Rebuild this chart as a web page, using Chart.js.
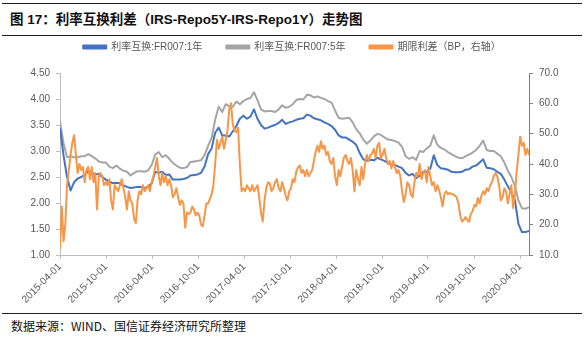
<!DOCTYPE html>
<html>
<head>
<meta charset="utf-8">
<script src="https://cdn.jsdelivr.net/npm/chart.js@4.4.1/dist/chart.umd.min.js"></script>
<style>
  html, body { margin: 0; padding: 0; background: #fff; }
  body { width: 584px; height: 337px; position: relative; overflow: hidden;
         font-family: "Liberation Sans", Arial, "Noto Sans CJK SC", sans-serif; }
  .rule { position: absolute; left: 2px; right: 2px; height: 1px; background: #222; }
  #titulo { position: absolute; left: 10px; top: 8px; font-size: 13.5px; font-weight: bold; color: #111;
            font-family: "Liberation Sans", Arial, "Noto Sans CJK SC", sans-serif; white-space: nowrap; }
  #fuente { position: absolute; left: 11px; top: 317px; font-size: 12px; color: #111;
            font-family: "Noto Sans CJK SC", sans-serif; white-space: nowrap; }
  #caja { position: absolute; left: 0; top: 18px; width: 584px; height: 292px; }
</style>
</head>
<body>
<div class="rule" style="top:3px"></div>
<div id="titulo">图 17：利率互换利差（IRS-Repo5Y-IRS-Repo1Y）走势图</div>
<div class="rule" style="top:35px"></div>
<div id="caja"><canvas id="grafico" width="584" height="292"></canvas></div>
<div class="rule" style="top:313px"></div>
<div id="fuente">数据来源：WIND、国信证券经济研究所整理</div>

<script>
// fechas base: la serie de tasas va cada 14 días, el diferencial cada 7 días
const fechaInicio = "2015-04-01";
const pasoTasas = 14;
const pasoDiferencial = 7;

// ejes
const fechasTicks = ["2015-04-01", "2015-10-01", "2016-04-01", "2016-10-01", "2017-04-01", "2017-10-01",
  "2018-04-01", "2018-10-01", "2019-04-01", "2019-10-01", "2020-04-01"];
const diaFinal = 1862;

// 利率互换:FR007:1年 (%)
const irs1Y = [3.44, 2.92, 2.50, 2.24, 2.40, 2.47, 2.50, 2.54, 2.61, 2.58,
  2.55, 2.56, 2.50, 2.45, 2.41, 2.38, 2.39, 2.38, 2.34, 2.31,
  2.29, 2.30, 2.31, 2.31, 2.29, 2.31, 2.38, 2.60, 2.58, 2.60,
  2.54, 2.55, 2.45, 2.45, 2.45, 2.46, 2.48, 2.53, 2.54, 2.55,
  2.58, 2.70, 2.94, 3.05, 3.35, 3.45, 3.30, 3.30, 3.28, 3.38,
  3.48, 3.62, 3.68, 3.62, 3.66, 3.80, 3.62, 3.50, 3.43, 3.45,
  3.48, 3.50, 3.54, 3.60, 3.52, 3.55, 3.57, 3.60, 3.62, 3.63,
  3.70, 3.68, 3.63, 3.61, 3.59, 3.55, 3.52, 3.48, 3.41, 3.30,
  3.26, 3.26, 3.22, 3.18, 3.12, 2.96, 2.84, 2.81, 2.83, 2.82,
  2.87, 2.84, 2.81, 2.77, 2.74, 2.73, 2.70, 2.67, 2.58, 2.53,
  2.56, 2.48, 2.52, 2.60, 2.60, 2.66, 2.92, 2.73, 2.67, 2.66,
  2.64, 2.60, 2.59, 2.59, 2.60, 2.64, 2.65, 2.70, 2.72, 2.78,
  2.84, 2.68, 2.67, 2.65, 2.60, 2.56, 2.45, 2.32, 2.20, 2.06,
  1.60, 1.44, 1.44, 1.46];

// 利率互换:FR007:5年 (%)
const irs5Y = [3.57, 3.15, 2.88, 2.90, 2.88, 2.88, 2.90, 2.90, 2.94, 2.90,
  2.86, 2.80, 2.78, 2.78, 2.70, 2.67, 2.72, 2.66, 2.62, 2.60,
  2.53, 2.58, 2.61, 2.61, 2.60, 2.63, 2.73, 2.93, 2.98, 2.88,
  2.92, 2.85, 2.77, 2.72, 2.68, 2.67, 2.69, 2.79, 2.80, 2.81,
  2.82, 2.92, 3.10, 3.25, 3.60, 3.85, 3.75, 3.90, 3.86, 3.85,
  3.95, 3.90, 3.96, 4.00, 4.02, 4.13, 3.98, 3.80, 3.76, 3.77,
  3.77, 3.75, 3.80, 3.88, 3.83, 3.85, 3.90, 3.98, 4.00, 3.99,
  4.08, 4.07, 4.03, 4.05, 4.02, 4.00, 3.96, 3.93, 3.78, 3.64,
  3.62, 3.63, 3.64, 3.55, 3.42, 3.34, 3.22, 3.14, 3.20, 3.28,
  3.33, 3.31, 3.26, 3.22, 3.21, 3.19, 3.16, 3.08, 2.90, 2.85,
  2.88, 2.83, 3.00, 2.98, 3.05, 3.10, 3.30, 3.12, 3.06, 3.03,
  2.98, 2.94, 2.90, 2.87, 2.86, 2.90, 2.93, 2.97, 3.02, 3.10,
  3.20, 3.02, 3.00, 3.00, 2.95, 2.90, 2.78, 2.62, 2.50, 2.33,
  2.05, 1.90, 1.89, 1.92];

// 期限利差（BP，右轴）
const diferencial = [12, 26, 14.5, 20, 33, 38, 43, 47, 49.5, 43,
  37, 40, 38, 39, 34, 38, 39, 35, 39, 34,
  37, 25, 36, 37, 36, 33, 34, 33, 35, 28,
  25, 33, 32, 31, 33, 35, 32, 29, 25, 31,
  28, 27, 22, 20.5, 28, 31, 30, 33, 31, 32,
  33, 31, 34, 36, 39, 42, 36, 33, 37, 34,
  36, 33, 35, 33, 29, 30, 32, 29, 26.5, 28,
  27, 19, 24, 23.5, 24, 26, 25, 23, 24, 23,
  20, 19.5, 23, 27, 27, 28.5, 30, 33, 40, 48,
  45, 47, 49, 45, 48, 51, 58, 60, 53, 51,
  50.5, 52, 40, 31, 32, 31, 33, 32, 31, 33,
  31, 32, 33, 29, 24, 21, 28, 32, 34, 33.5,
  31, 32, 34, 35, 32, 31, 34, 32, 29.5, 28,
  31, 32, 35, 34, 37.5, 39, 39.5, 37, 38, 36,
  38, 36, 37, 38, 41, 44, 46, 44, 47.5, 45,
  46, 43, 44, 41, 40, 42, 36, 33, 38, 36,
  39, 42, 43, 41, 40, 42, 38, 31, 38, 35,
  33, 39, 35, 40, 43, 41, 43, 43.5, 45, 42,
  46, 47, 42, 43, 45, 42, 40, 41, 38.5, 41,
  39, 37, 38, 36, 31, 27.5, 30, 34, 33, 30,
  29, 34, 37, 36, 40, 35, 37, 38, 34, 39,
  36, 33, 34, 31, 33, 31.5, 29, 26, 30, 31,
  30, 30.5, 30, 30, 29.5, 29, 27, 23, 21, 21.5,
  22.5, 21.5, 21, 23.5, 24.5, 26.5, 26, 28.8, 27, 29.5,
  31, 30, 32, 31, 33, 34, 36, 37, 36, 33,
  28, 29, 32, 31, 27, 30, 33, 25.5, 30, 37.5,
  43, 49, 46, 47, 43, 45, 43];

const colores = { azul: "#4472C4", gris: "#A5A5A5", naranja: "#F79646" };
const grisTexto = "#595959";

function diasDesdeInicio(fecha) {
  return Math.round((Date.parse(fecha) - Date.parse(fechaInicio)) / 86400000);
}

// pares {x: día, y: valor} para el eje lineal
const puntos = (valores, paso) => valores.map((v, i) => ({ x: i * paso, y: v }));
const diasTicks = fechasTicks.map(diasDesdeInicio);

const fuente = { family: "'Liberation Sans', Arial, 'Noto Sans CJK SC', sans-serif", size: 10 };

// más aire entre la leyenda y el área del gráfico
const espacioLeyenda = {
  id: "espacioLeyenda",
  beforeInit(chart) {
    const fitOriginal = chart.legend.fit;
    chart.legend.fit = function () {
      fitOriginal.bind(chart.legend)();
      this.height += 11;
    };
  }
};

new Chart(document.getElementById("grafico"), {
  type: "line",
  plugins: [espacioLeyenda],
  data: {
    datasets: [
      { label: "利率互换:FR007:1年", data: puntos(irs1Y, pasoTasas), yAxisID: "y",
        borderColor: colores.azul, backgroundColor: colores.azul, borderWidth: 2, order: 1 },
      { label: "利率互换:FR007:5年", data: puntos(irs5Y, pasoTasas), yAxisID: "y",
        borderColor: colores.gris, backgroundColor: colores.gris, borderWidth: 2, order: 2 },
      { label: "期限利差（BP，右轴）", data: puntos(diferencial, pasoDiferencial), yAxisID: "y2",
        borderColor: colores.naranja, backgroundColor: colores.naranja, borderWidth: 2, order: 0 }
    ]
  },
  options: {
    responsive: false,
    animation: false,
    events: [],
    elements: { point: { radius: 0 }, line: { tension: 0, borderJoinStyle: "round" } },
    layout: { padding: { left: 0, right: 0, top: 0, bottom: 0 } },
    plugins: {
      tooltip: { enabled: false },
      legend: {
        position: "top",
        labels: {
          boxWidth: 23, boxHeight: 3, padding: 24, color: grisTexto,
          font: { family: fuente.family, size: 10 },
          sort: (a, b) => a.datasetIndex - b.datasetIndex
        }
      }
    },
    scales: {
      x: {
        type: "linear", min: 0, max: diaFinal,
        afterBuildTicks: (scale) => { scale.ticks = diasTicks.map(v => ({ value: v })); },
        afterFit: (scale) => { scale.height = 55; },
        ticks: {
          autoSkip: false, minRotation: 45, maxRotation: 45, color: grisTexto, font: fuente, padding: 2,
          callback: (valor, i) => fechasTicks[i]
        },
        grid: { display: true, drawOnChartArea: false, drawTicks: true, tickLength: 4, color: "#BFBFBF" },
        border: { display: true, color: "#BFBFBF", width: 1 }
      },
      y: {
        position: "left", min: 1, max: 4.5,
        afterFit: (scale) => { scale.width = 60; },
        ticks: { stepSize: 0.5, color: grisTexto, font: fuente, padding: 6,
          callback: (v) => Number(v).toFixed(2) },
        grid: { display: true, drawOnChartArea: false, drawTicks: true, tickLength: 4, color: "#BFBFBF" },
        border: { display: true, color: "#BFBFBF", width: 1 }
      },
      y2: {
        position: "right", min: 10, max: 70,
        afterFit: (scale) => { scale.width = 55; },
        ticks: { stepSize: 10, color: grisTexto, font: fuente, padding: 6,
          callback: (v) => Number(v).toFixed(1) },
        grid: { display: true, drawOnChartArea: false, drawTicks: true, tickLength: 4, color: "#808080" },
        border: { display: true, color: "#808080", width: 1 }
      }
    }
  }
});
</script>
</body>
</html>
